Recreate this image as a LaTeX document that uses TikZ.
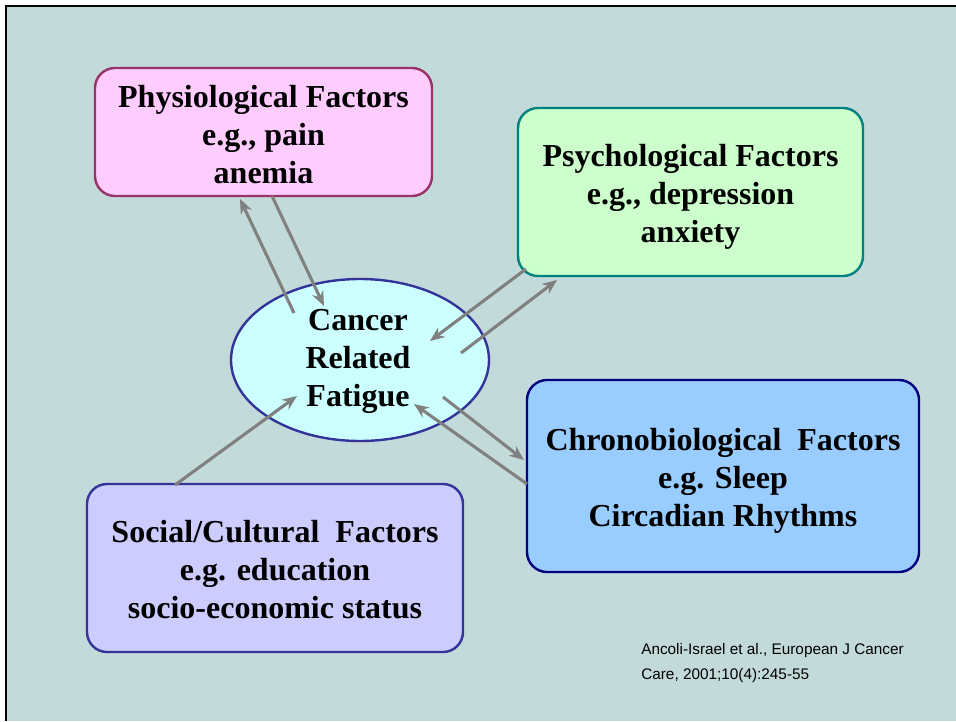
\documentclass[tikz,border=0pt]{standalone}
\usepackage{fontspec}
\setmainfont{Liberation Serif}
\newfontfamily\citefont{Liberation Sans}
\usetikzlibrary{arrows.meta}
\definecolor{slidebg}{HTML}{C2DADA}
\definecolor{pinkfill}{HTML}{FFCCFF}
\definecolor{pinkdraw}{HTML}{993366}
\definecolor{greenfill}{HTML}{CCFFCC}
\definecolor{greendraw}{HTML}{008080}
\definecolor{bluefill}{HTML}{99CCFF}
\definecolor{bluedraw}{HTML}{000080}
\definecolor{lavfill}{HTML}{CCCCFF}
\definecolor{lavdraw}{HTML}{333399}
\definecolor{cyanfill}{HTML}{CCFFFF}
\definecolor{arrowgray}{HTML}{808080}
\begin{document}
\begin{tikzpicture}[x=0.75pt,y=-0.75pt,
  boxshape/.style={rounded corners=15pt,line width=1.8pt},
  factor/.style={align=center,inner sep=0pt,
    font=\fontsize{24}{28.5}\selectfont\bfseries},
  conn/.style={draw=arrowgray,line width=2.3pt,-{Stealth[length=11pt,width=9pt]}}]
\useasboundingbox (0,0) rectangle (956,721);
\fill[white] (0,0) rectangle (956,721);
\fill[slidebg] (6,6) rectangle (956,721);
\draw[black,line width=2pt] (6,721) -- (6,6) -- (956,6);
% boxes
\draw[boxshape,fill=pinkfill,draw=pinkdraw] (95,68) rectangle (432,196);
\node[factor] (phys) at (263.5,135) {Physiological Factors\\e.g., pain\\anemia};
\draw[boxshape,fill=greenfill,draw=greendraw] (518,108) rectangle (863,276);
\node[factor] (psych) at (690.5,197) {Psychological Factors\\e.g., depression\\anxiety};
\draw[boxshape,fill=bluefill,draw=bluedraw] (527,380) rectangle (919,572);
\node[factor] (chrono) at (723,481) {Chronobiological\ \ Factors\\e.g. Sleep\\Circadian Rhythms};
\draw[boxshape,fill=lavfill,draw=lavdraw] (87,484) rectangle (463,652);
\node[factor] (social) at (275,570) {Social/Cultural\ \ Factors\\e.g. education\\socio-economic status};
\draw[fill=cyanfill,draw=lavdraw,line width=1.8pt] (360,360) ellipse [x radius=129,y radius=81];
\node[factor] (crf) at (358,361) {Cancer\\Related\\Fatigue};
% anchor coordinates for connectors
\coordinate (a1s) at (294,313); \coordinate (a1e) at (240,199);
\coordinate (a2s) at (272,196); \coordinate (a2e) at (324,306);
\coordinate (a3s) at (526,269); \coordinate (a3e) at (430,341);
\coordinate (a4s) at (461,353); \coordinate (a4e) at (557,280);
\coordinate (a5s) at (443,397); \coordinate (a5e) at (524,460);
\coordinate (a6s) at (527,484); \coordinate (a6e) at (414,404);
\coordinate (a7s) at (175,485); \coordinate (a7e) at (297,396);
\draw[conn] (a1s) -- (a1e);
\draw[conn] (a2s) -- (a2e);
\draw[conn] (a3s) -- (a3e);
\draw[conn] (a4s) -- (a4e);
\draw[conn] (a5s) -- (a5e);
\draw[conn] (a6s) -- (a6e);
\draw[conn] (a7s) -- (a7e);
\node[anchor=north west,align=left,inner sep=0pt,
  font=\citefont\fontsize{11.5}{18.5}\selectfont] (cite) at (641,643)
  {Ancoli-Israel et al., European J Cancer\\Care, 2001;10(4):245-55};
\end{tikzpicture}
\end{document}
